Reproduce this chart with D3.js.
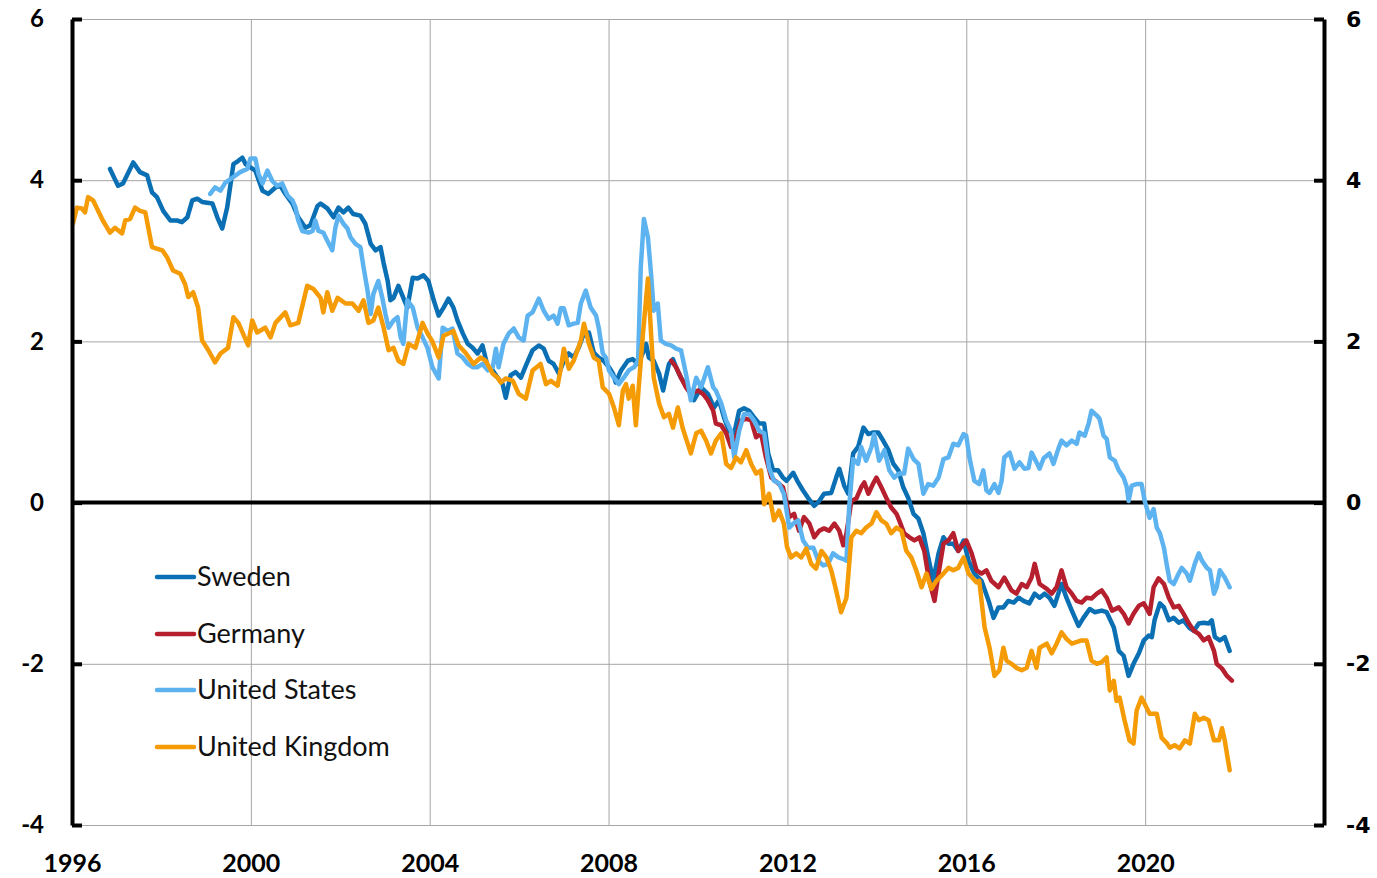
<!DOCTYPE html>
<html>
<head>
<meta charset="utf-8">
<script src="https://cdn.jsdelivr.net/npm/d3@7"></script>
<style>
  html, body { margin: 0; padding: 0; background: #fff; }
  svg { display: block; }
</style>
</head>
<body>
<svg id="chart" width="1377" height="878"></svg>
<script>
// ---- Data (year, value) ----
const seriesNames = ["Sweden", "Germany", "United States", "United Kingdom"];
const seriesColors = ["#0a6fb3", "#b51f2e", "#5db3ef", "#f49b05"];
const xTicks = [1996, 2000, 2004, 2008, 2012, 2016, 2020];
const yTicks = [-4, -2, 0, 2, 4, 6];

const sweden = [
[1996.85,4.14],[1997.03,3.93],[1997.14,3.96],[1997.37,4.22],[1997.52,4.10],[1997.68,4.06],[1997.79,3.85],[1997.90,3.79],
[1998.04,3.62],[1998.20,3.50],[1998.35,3.50],[1998.46,3.48],[1998.58,3.54],[1998.69,3.75],[1998.80,3.77],[1998.91,3.73],
[1999.14,3.71],[1999.25,3.54],[1999.36,3.40],[1999.47,3.66],[1999.61,4.20],[1999.72,4.24],[1999.81,4.28],[1999.88,4.20],
[1999.99,4.16],[2000.10,4.12],[2000.26,3.87],[2000.39,3.83],[2000.55,3.91],[2000.66,3.93],[2000.77,3.83],[2000.93,3.71],
[2001.06,3.54],[2001.22,3.41],[2001.33,3.44],[2001.49,3.68],[2001.56,3.71],[2001.71,3.65],[2001.85,3.54],[2001.96,3.66],
[2002.07,3.60],[2002.18,3.66],[2002.29,3.58],[2002.45,3.56],[2002.56,3.46],[2002.68,3.21],[2002.79,3.13],[2002.90,3.17],
[2002.97,2.97],[2003.06,2.75],[2003.12,2.51],[2003.19,2.54],[2003.30,2.69],[2003.41,2.54],[2003.50,2.42],[2003.62,2.79],
[2003.73,2.78],[2003.86,2.82],[2003.97,2.75],[2004.09,2.51],[2004.20,2.32],[2004.31,2.42],[2004.42,2.53],[2004.53,2.42],
[2004.62,2.26],[2004.74,2.10],[2004.85,1.97],[2004.96,1.92],[2005.07,1.85],[2005.18,1.95],[2005.30,1.68],[2005.41,1.64],
[2005.52,1.55],[2005.63,1.47],[2005.70,1.30],[2005.81,1.58],[2005.92,1.62],[2006.04,1.55],[2006.15,1.70],[2006.30,1.89],
[2006.44,1.95],[2006.55,1.91],[2006.66,1.76],[2006.77,1.72],[2006.89,1.60],[2007.00,1.76],[2007.11,1.85],[2007.22,1.80],
[2007.33,1.92],[2007.45,2.10],[2007.56,2.11],[2007.67,1.86],[2007.78,1.80],[2007.89,1.76],[2008.01,1.68],[2008.10,1.60],
[2008.16,1.49],[2008.28,1.64],[2008.43,1.76],[2008.54,1.78],[2008.66,1.72],[2008.77,1.86],[2008.84,1.97],[2008.90,1.80],
[2009.01,1.76],[2009.13,1.60],[2009.22,1.39],[2009.28,1.55],[2009.35,1.72],[2009.44,1.78],[2009.51,1.68],[2009.62,1.55],
[2009.80,1.39],[2009.91,1.27],[2010.07,1.43],[2010.22,1.35],[2010.36,1.18],[2010.47,1.27],[2010.58,1.06],[2010.69,0.89],
[2010.81,0.86],[2010.92,1.14],[2011.03,1.17],[2011.14,1.14],[2011.25,1.06],[2011.37,0.98],[2011.48,0.98],[2011.57,0.61],
[2011.68,0.40],[2011.79,0.40],[2011.90,0.31],[2011.98,0.27],[2012.13,0.37],[2012.24,0.25],[2012.35,0.15],[2012.46,0.06],
[2012.60,-0.04],[2012.71,0.02],[2012.82,0.11],[2012.98,0.12],[2013.09,0.31],[2013.16,0.42],[2013.27,0.21],[2013.36,0.11],
[2013.47,0.61],[2013.58,0.69],[2013.70,0.93],[2013.81,0.85],[2013.92,0.87],[2014.03,0.87],[2014.14,0.77],[2014.26,0.65],
[2014.37,0.48],[2014.48,0.40],[2014.59,0.19],[2014.70,0.06],[2014.82,-0.14],[2014.93,-0.20],[2015.04,-0.38],[2015.15,-0.68],
[2015.26,-0.97],[2015.38,-0.63],[2015.49,-0.43],[2015.60,-0.51],[2015.71,-0.51],[2015.82,-0.60],[2015.94,-0.47],[2016.05,-0.72],
[2016.18,-0.88],[2016.34,-0.97],[2016.50,-1.22],[2016.61,-1.43],[2016.72,-1.30],[2016.83,-1.30],[2016.94,-1.22],[2017.06,-1.24],
[2017.17,-1.18],[2017.28,-1.22],[2017.41,-1.25],[2017.53,-1.13],[2017.64,-1.18],[2017.75,-1.13],[2017.86,-1.18],[2017.97,-1.28],
[2018.13,-1.01],[2018.24,-1.18],[2018.36,-1.34],[2018.51,-1.53],[2018.62,-1.43],[2018.76,-1.32],[2018.87,-1.36],[2019.03,-1.34],
[2019.14,-1.36],[2019.30,-1.55],[2019.41,-1.84],[2019.52,-1.90],[2019.63,-2.15],[2019.74,-2.00],[2019.86,-1.87],[2019.97,-1.71],
[2020.08,-1.65],[2020.15,-1.67],[2020.21,-1.46],[2020.33,-1.25],[2020.42,-1.30],[2020.53,-1.46],[2020.64,-1.43],[2020.75,-1.49],
[2020.86,-1.46],[2020.98,-1.55],[2021.09,-1.59],[2021.20,-1.50],[2021.31,-1.49],[2021.42,-1.50],[2021.49,-1.46],[2021.56,-1.67],
[2021.67,-1.71],[2021.78,-1.67],[2021.89,-1.84]
];

const germany = [
[2009.40,1.76],[2009.51,1.68],[2009.62,1.55],[2009.73,1.43],[2009.84,1.35],[2010.00,1.39],[2010.11,1.35],[2010.22,1.27],
[2010.34,1.14],[2010.40,0.98],[2010.52,0.96],[2010.63,0.86],[2010.74,0.69],[2010.85,0.81],[2010.96,1.02],[2011.08,1.04],
[2011.19,1.02],[2011.30,0.81],[2011.41,0.86],[2011.52,0.56],[2011.64,0.31],[2011.79,0.24],[2011.90,0.19],[2011.97,0.02],
[2012.04,-0.18],[2012.15,-0.14],[2012.26,-0.35],[2012.37,-0.18],[2012.49,-0.26],[2012.60,-0.43],[2012.71,-0.35],[2012.82,-0.32],
[2012.93,-0.35],[2013.05,-0.26],[2013.16,-0.35],[2013.25,-0.53],[2013.32,-0.38],[2013.43,0.02],[2013.54,0.05],[2013.65,0.19],
[2013.72,0.25],[2013.81,0.11],[2013.92,0.24],[2013.99,0.31],[2014.10,0.19],[2014.21,0.06],[2014.32,-0.06],[2014.44,-0.14],
[2014.50,-0.22],[2014.61,-0.38],[2014.73,-0.43],[2014.84,-0.47],[2014.95,-0.43],[2015.06,-0.60],[2015.17,-0.97],[2015.29,-1.22],
[2015.38,-0.88],[2015.49,-0.51],[2015.60,-0.47],[2015.71,-0.38],[2015.82,-0.60],[2015.94,-0.51],[2016.00,-0.47],[2016.12,-0.63],
[2016.23,-0.84],[2016.34,-0.88],[2016.45,-0.84],[2016.56,-0.97],[2016.72,-1.05],[2016.85,-0.93],[2017.01,-1.09],[2017.12,-1.13],
[2017.24,-1.01],[2017.35,-1.05],[2017.46,-0.93],[2017.53,-0.76],[2017.64,-1.01],[2017.80,-1.07],[2017.91,-1.13],[2018.02,-1.05],
[2018.13,-0.84],[2018.24,-1.05],[2018.36,-1.13],[2018.47,-1.22],[2018.58,-1.24],[2018.69,-1.18],[2018.80,-1.19],[2018.92,-1.13],
[2019.03,-1.09],[2019.14,-1.18],[2019.26,-1.34],[2019.41,-1.30],[2019.52,-1.38],[2019.63,-1.50],[2019.74,-1.38],[2019.86,-1.28],
[2019.97,-1.25],[2020.10,-1.38],[2020.19,-1.05],[2020.30,-0.94],[2020.42,-1.01],[2020.53,-1.18],[2020.64,-1.30],[2020.75,-1.28],
[2020.86,-1.38],[2020.98,-1.50],[2021.09,-1.59],[2021.20,-1.63],[2021.31,-1.71],[2021.42,-1.67],[2021.54,-1.84],[2021.60,-2.00],
[2021.72,-2.06],[2021.83,-2.15],[2021.94,-2.21]
];

const unitedStates = [
[1999.09,3.83],[1999.20,3.91],[1999.32,3.87],[1999.43,3.97],[1999.61,4.04],[1999.76,4.10],[1999.92,4.14],[1999.99,4.27],
[2000.10,4.27],[2000.17,4.08],[2000.26,3.96],[2000.37,4.12],[2000.48,3.99],[2000.59,3.93],[2000.70,3.96],[2000.82,3.81],
[2000.93,3.75],[2001.00,3.66],[2001.06,3.50],[2001.15,3.37],[2001.29,3.35],[2001.38,3.37],[2001.44,3.50],[2001.51,3.37],
[2001.62,3.35],[2001.71,3.25],[2001.82,3.13],[2001.89,3.41],[2001.96,3.56],[2002.07,3.46],[2002.16,3.40],[2002.23,3.29],
[2002.34,3.21],[2002.45,3.17],[2002.52,2.92],[2002.61,2.63],[2002.68,2.34],[2002.74,2.59],[2002.85,2.75],[2002.94,2.54],
[2003.01,2.34],[2003.08,2.17],[2003.19,2.26],[2003.28,2.30],[2003.35,2.05],[2003.41,1.97],[2003.50,2.51],[2003.62,2.42],
[2003.73,2.17],[2003.84,2.05],[2003.95,1.92],[2004.06,1.68],[2004.20,1.54],[2004.29,2.17],[2004.40,2.13],[2004.51,2.16],
[2004.62,1.85],[2004.74,1.80],[2004.85,1.72],[2004.96,1.68],[2005.07,1.68],[2005.18,1.72],[2005.30,1.64],[2005.41,1.68],
[2005.48,1.91],[2005.54,1.68],[2005.65,1.97],[2005.77,2.10],[2005.88,2.16],[2005.99,2.05],[2006.10,2.01],[2006.19,2.32],
[2006.30,2.36],[2006.44,2.53],[2006.55,2.38],[2006.66,2.28],[2006.77,2.32],[2006.86,2.22],[2006.93,2.41],[2007.00,2.41],
[2007.11,2.20],[2007.22,2.22],[2007.31,2.23],[2007.38,2.47],[2007.49,2.63],[2007.60,2.42],[2007.72,2.32],[2007.78,2.17],
[2007.87,1.85],[2007.94,1.80],[2008.01,1.64],[2008.12,1.55],[2008.23,1.47],[2008.34,1.55],[2008.45,1.64],[2008.57,1.68],
[2008.66,1.76],[2008.72,2.92],[2008.79,3.52],[2008.88,3.29],[2008.95,2.84],[2009.01,2.38],[2009.10,2.47],[2009.17,2.01],
[2009.28,1.97],[2009.40,1.95],[2009.51,1.91],[2009.62,1.89],[2009.73,1.60],[2009.84,1.27],[2009.96,1.55],[2010.07,1.43],
[2010.22,1.68],[2010.34,1.43],[2010.40,1.39],[2010.52,1.23],[2010.63,1.02],[2010.74,0.89],[2010.81,0.56],[2010.92,0.89],
[2011.03,1.10],[2011.14,1.10],[2011.25,1.02],[2011.37,0.89],[2011.48,0.86],[2011.59,0.43],[2011.70,0.27],[2011.81,0.24],
[2011.92,0.11],[2011.97,-0.06],[2012.04,-0.31],[2012.13,-0.26],[2012.24,-0.22],[2012.35,-0.47],[2012.46,-0.56],[2012.58,-0.56],
[2012.69,-0.72],[2012.80,-0.78],[2012.91,-0.76],[2013.02,-0.63],[2013.14,-0.68],[2013.25,-0.70],[2013.32,-0.72],[2013.38,-0.06],
[2013.47,0.54],[2013.58,0.48],[2013.65,0.69],[2013.76,0.52],[2013.88,0.69],[2013.94,0.85],[2014.05,0.52],[2014.17,0.65],
[2014.28,0.40],[2014.39,0.31],[2014.50,0.36],[2014.61,0.36],[2014.70,0.67],[2014.82,0.54],[2014.93,0.48],[2015.04,0.11],
[2015.15,0.23],[2015.26,0.21],[2015.38,0.31],[2015.49,0.54],[2015.60,0.56],[2015.71,0.73],[2015.82,0.71],[2015.94,0.85],
[2016.00,0.83],[2016.07,0.56],[2016.18,0.27],[2016.29,0.23],[2016.38,0.40],[2016.45,0.15],[2016.52,0.12],[2016.63,0.23],
[2016.72,0.12],[2016.79,0.27],[2016.85,0.56],[2016.97,0.62],[2017.08,0.42],[2017.19,0.50],[2017.30,0.42],[2017.39,0.43],
[2017.46,0.62],[2017.57,0.50],[2017.64,0.42],[2017.73,0.55],[2017.86,0.61],[2017.95,0.48],[2018.06,0.67],[2018.13,0.77],
[2018.24,0.71],[2018.36,0.77],[2018.47,0.73],[2018.53,0.87],[2018.65,0.83],[2018.74,0.99],[2018.80,1.14],[2018.92,1.08],
[2018.98,1.04],[2019.07,0.83],[2019.14,0.79],[2019.21,0.56],[2019.32,0.52],[2019.41,0.40],[2019.52,0.31],[2019.59,0.19],
[2019.63,0.02],[2019.70,0.21],[2019.81,0.23],[2019.92,0.23],[2019.99,0.02],[2020.10,-0.19],[2020.19,-0.08],[2020.26,-0.31],
[2020.33,-0.38],[2020.42,-0.56],[2020.48,-0.76],[2020.55,-0.97],[2020.64,-1.01],[2020.75,-0.88],[2020.82,-0.81],[2020.93,-0.88],
[2021.00,-0.97],[2021.11,-0.76],[2021.20,-0.63],[2021.27,-0.72],[2021.38,-0.81],[2021.45,-0.84],[2021.54,-1.13],[2021.60,-1.05],
[2021.67,-0.84],[2021.78,-0.93],[2021.89,-1.05]
];

const unitedKingdom = [
[1996.02,3.46],[1996.11,3.66],[1996.22,3.65],[1996.29,3.60],[1996.36,3.79],[1996.47,3.75],[1996.69,3.50],[1996.85,3.35],
[1996.96,3.41],[1997.12,3.34],[1997.19,3.50],[1997.30,3.52],[1997.41,3.66],[1997.52,3.62],[1997.64,3.60],[1997.79,3.17],
[1998.02,3.13],[1998.13,3.04],[1998.26,2.88],[1998.42,2.84],[1998.53,2.71],[1998.60,2.55],[1998.71,2.61],[1998.82,2.42],
[1998.91,2.01],[1999.05,1.89],[1999.20,1.74],[1999.32,1.85],[1999.49,1.92],[1999.61,2.30],[1999.72,2.23],[1999.94,1.95],
[2000.03,2.26],[2000.14,2.11],[2000.32,2.17],[2000.44,2.05],[2000.55,2.23],[2000.77,2.36],[2000.88,2.20],[2001.06,2.23],
[2001.26,2.69],[2001.40,2.65],[2001.56,2.54],[2001.62,2.36],[2001.71,2.61],[2001.82,2.38],[2001.94,2.54],[2002.12,2.47],
[2002.27,2.47],[2002.41,2.38],[2002.52,2.51],[2002.63,2.23],[2002.74,2.26],[2002.85,2.42],[2002.97,2.17],[2003.08,1.89],
[2003.19,1.92],[2003.30,1.76],[2003.41,1.72],[2003.53,1.97],[2003.68,1.92],[2003.84,2.23],[2003.95,2.10],[2004.06,2.00],
[2004.20,1.80],[2004.31,2.07],[2004.47,2.11],[2004.53,2.13],[2004.65,1.95],[2004.80,1.86],[2004.98,1.72],[2005.14,1.80],
[2005.25,1.76],[2005.41,1.60],[2005.52,1.55],[2005.59,1.49],[2005.70,1.54],[2005.86,1.51],[2005.99,1.35],[2006.15,1.29],
[2006.30,1.64],[2006.48,1.72],[2006.60,1.47],[2006.71,1.51],[2006.86,1.45],[2006.93,1.66],[2007.00,1.91],[2007.11,1.66],
[2007.22,1.76],[2007.38,2.01],[2007.45,2.22],[2007.56,1.97],[2007.67,1.80],[2007.78,1.76],[2007.87,1.43],[2008.01,1.35],
[2008.12,1.18],[2008.23,0.96],[2008.32,1.39],[2008.39,1.47],[2008.45,1.29],[2008.54,1.45],[2008.61,0.96],[2008.68,1.47],
[2008.77,2.10],[2008.88,2.78],[2008.95,2.10],[2009.01,1.55],[2009.13,1.23],[2009.24,1.06],[2009.35,1.10],[2009.44,0.93],
[2009.55,1.18],[2009.66,0.92],[2009.84,0.61],[2009.96,0.86],[2010.07,0.89],[2010.18,0.77],[2010.29,0.61],[2010.40,0.77],
[2010.52,0.86],[2010.63,0.48],[2010.74,0.43],[2010.85,0.56],[2010.96,0.50],[2011.08,0.65],[2011.19,0.48],[2011.30,0.36],
[2011.41,0.40],[2011.48,-0.02],[2011.59,0.11],[2011.70,-0.22],[2011.81,-0.10],[2011.92,-0.26],[2011.99,-0.55],[2012.08,-0.68],
[2012.20,-0.63],[2012.31,-0.68],[2012.42,-0.57],[2012.53,-0.76],[2012.64,-0.82],[2012.76,-0.60],[2012.87,-0.68],[2012.98,-0.84],
[2013.09,-1.09],[2013.20,-1.36],[2013.32,-1.18],[2013.43,-0.43],[2013.54,-0.35],[2013.65,-0.38],[2013.76,-0.31],[2013.88,-0.26],
[2013.99,-0.12],[2014.10,-0.22],[2014.21,-0.26],[2014.32,-0.38],[2014.44,-0.31],[2014.55,-0.35],[2014.66,-0.60],[2014.77,-0.68],
[2014.88,-0.84],[2015.00,-1.05],[2015.11,-0.88],[2015.22,-1.07],[2015.33,-0.97],[2015.44,-0.91],[2015.60,-0.81],[2015.71,-0.84],
[2015.82,-0.81],[2015.94,-0.68],[2016.05,-0.88],[2016.23,-0.99],[2016.29,-0.97],[2016.41,-1.55],[2016.52,-1.80],[2016.63,-2.15],
[2016.74,-2.08],[2016.83,-1.80],[2016.90,-1.96],[2017.01,-2.00],[2017.12,-2.05],[2017.24,-2.08],[2017.35,-2.05],[2017.46,-1.84],
[2017.57,-2.05],[2017.64,-1.80],[2017.80,-1.75],[2017.91,-1.87],[2018.02,-1.75],[2018.13,-1.61],[2018.24,-1.69],[2018.36,-1.75],
[2018.58,-1.71],[2018.69,-1.71],[2018.80,-1.96],[2018.92,-2.00],[2019.03,-1.98],[2019.14,-1.92],[2019.21,-2.33],[2019.30,-2.21],
[2019.36,-2.46],[2019.43,-2.42],[2019.54,-2.70],[2019.65,-2.95],[2019.74,-2.99],[2019.81,-2.58],[2019.92,-2.42],[2020.10,-2.62],
[2020.26,-2.62],[2020.37,-2.92],[2020.48,-2.98],[2020.55,-3.04],[2020.66,-3.01],[2020.77,-3.05],[2020.89,-2.95],[2021.00,-2.99],
[2021.11,-2.62],[2021.20,-2.70],[2021.31,-2.67],[2021.42,-2.70],[2021.54,-2.95],[2021.65,-2.95],[2021.72,-2.80],[2021.78,-2.95],
[2021.89,-3.32]
];

const allSeries = [sweden, germany, unitedStates, unitedKingdom];

// ---- Layout ----
const svg = d3.select("#chart");
const plotLeft = 72, plotRight = 1324, plotTop = 19, plotBottom = 825;
const x = d3.scaleLinear().domain([1996, 2024]).range([plotLeft, plotRight]);
const y = d3.scaleLinear().domain([-4, 6]).range([plotBottom, plotTop]);

const gridColor = "#a6a6a6";
const labelFont = "Lato, 'Open Sans', sans-serif";
const fmt = d => String(d); // plain hyphen-minus like the reference

// Gridlines
svg.append("g")
  .attr("transform", `translate(0,${plotBottom})`)
  .call(d3.axisBottom(x).tickValues(xTicks.slice(1)).tickSize(-(plotBottom - plotTop)).tickFormat(""))
  .call(g => g.select(".domain").remove())
  .call(g => g.selectAll("line").attr("stroke", gridColor).attr("stroke-width", 1));

svg.append("g")
  .attr("transform", `translate(${plotLeft},0)`)
  .call(d3.axisLeft(y).tickValues(yTicks.filter(v => v !== 0)).tickSize(-(plotRight - plotLeft)).tickFormat(""))
  .call(g => g.select(".domain").remove())
  .call(g => g.selectAll("line").attr("stroke", gridColor).attr("stroke-width", 1));

// Zero line
svg.append("line")
  .attr("x1", plotLeft).attr("x2", plotRight)
  .attr("y1", y(0)).attr("y2", y(0))
  .attr("stroke", "#000").attr("stroke-width", 4);

// Series lines
const line = d3.line().x(d => x(d[0])).y(d => y(d[1]));
allSeries.forEach((s, i) => {
  svg.append("path")
    .datum(s)
    .attr("fill", "none")
    .attr("stroke", seriesColors[i])
    .attr("stroke-width", 4.5)
    .attr("stroke-linejoin", "round")
    .attr("stroke-linecap", "round")
    .attr("d", line);
});

// Left axis
svg.append("g")
  .attr("transform", `translate(${plotLeft},0)`)
  .call(d3.axisLeft(y).tickValues(yTicks).tickSize(-10).tickSizeOuter(0).tickPadding(28).tickFormat(fmt))
  .call(g => g.select(".domain").attr("stroke", "#000").attr("stroke-width", 4))
  .call(g => g.selectAll(".tick line").attr("stroke", "#000").attr("stroke-width", 4))
  .call(g => g.selectAll("text").attr("fill", "#000").style("font-family", labelFont)
      .style("font-weight", "700").style("font-size", "24px"));

// Right axis
svg.append("g")
  .attr("transform", `translate(${plotRight},0)`)
  .call(d3.axisRight(y).tickValues(yTicks).tickSize(-10).tickSizeOuter(0).tickPadding(22).tickFormat(fmt))
  .call(g => g.select(".domain").attr("stroke", "#000").attr("stroke-width", 4))
  .call(g => g.selectAll(".tick line").attr("stroke", "#000").attr("stroke-width", 4))
  .call(g => g.selectAll("text").attr("fill", "#000").style("font-family", "'DejaVu Sans', Verdana, sans-serif")
      .style("font-weight", "700").style("font-size", "22px"));

// Bottom labels
svg.append("g")
  .attr("transform", `translate(0,${plotBottom})`)
  .call(d3.axisBottom(x).tickValues(xTicks).tickSize(0).tickPadding(29).tickFormat(fmt))
  .call(g => g.select(".domain").remove())
  .call(g => g.selectAll("text").attr("fill", "#000").style("font-family", labelFont)
      .style("font-weight", "700").style("font-size", "25px"));

// Legend
const legendY = [577, 634, 690, 747];
const legend = svg.append("g");
seriesNames.forEach((name, i) => {
  legend.append("line")
    .attr("x1", 157).attr("x2", 194)
    .attr("y1", legendY[i]).attr("y2", legendY[i])
    .attr("stroke", seriesColors[i]).attr("stroke-width", 4.5).attr("stroke-linecap", "round");
  legend.append("text")
    .attr("x", 197).attr("y", legendY[i]).attr("dy", "0.35em")
    .attr("fill", "#111")
    .style("font-family", labelFont).style("font-size", "27px")
    .text(name);
});
</script>
</body>
</html>
